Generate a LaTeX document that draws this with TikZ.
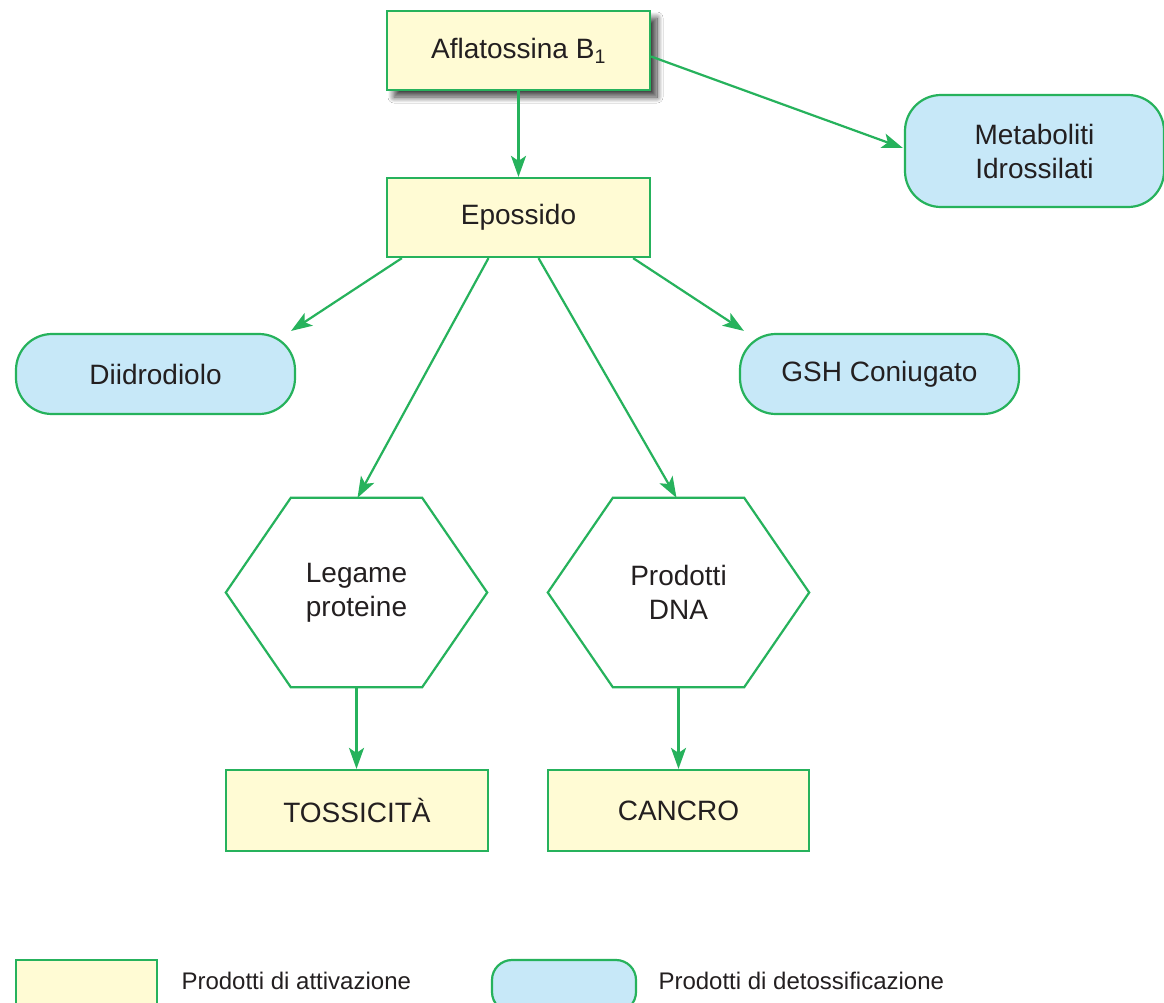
\documentclass[tikz,border=0pt]{standalone}
\usepackage{fontspec}
\setmainfont{Liberation Sans}
\usetikzlibrary{arrows.meta,shadows.blur,calc}
\definecolor{gline}{RGB}{38,178,92}
\definecolor{yfill}{RGB}{255,251,212}
\definecolor{bfill}{RGB}{199,232,248}
\definecolor{tcol}{RGB}{35,31,32}
\begin{document}
\begin{tikzpicture}[x=1pt,y=-1pt,
  every node/.style={text=tcol,font=\fontsize{28}{34}\selectfont,align=center},
  actbox/.style={draw=gline,line width=2.2pt,fill=yfill,minimum width=263pt,minimum height=79pt,inner sep=0pt},
  detbox/.style={draw=gline,line width=2.2pt,fill=bfill,rounded corners=36pt,minimum width=279pt,minimum height=80pt,inner sep=0pt},
  hexnode/.style={minimum width=261pt,minimum height=189pt,inner sep=0pt},
  hexline/.style={draw=gline,line width=2.2pt,line join=miter},
  arr/.style={draw=gline,line width=2.2pt,-{Stealth[length=21pt,width=15pt,inset=5pt]}},
  legtext/.style={anchor=west,font=\fontsize{24}{28}\selectfont}
]
\useasboundingbox (0,0) rectangle (1164,1002);
\clip (0,0) rectangle (1164,1002);
\fill[white] (0,0) rectangle (1164,1002);

% nodes
\node[actbox,blur shadow={shadow xshift=7pt,shadow yshift=-7pt,shadow blur radius=6pt,shadow blur steps=16,shadow opacity=75}] (afla) at (518.5,50.5) {Aflatossina B\textsubscript{1}};
\node[actbox] (epo) at (518.5,217.5) {Epossido};
\node[detbox,minimum width=259pt,minimum height=112pt] (meta) at (1034.5,151) {Metaboliti\\Idrossilati};
\node[detbox] (diid) at (155.5,374) {Diidrodiolo};
\node[detbox] (gsh) at (879.5,374) {GSH Coniugato};
\node[hexnode] (leg) at (356.5,592.5) {Legame\\proteine};
\node[hexnode] (dna) at (678.5,592.5) {Prodotti\\DNA};
\node[actbox,minimum width=262pt,minimum height=81pt] (toss) at (357,810.5) {TOSSICITÀ};
\node[actbox,minimum width=261pt,minimum height=81pt] (canc) at (678.5,810.5) {CANCRO};

% hexagon outlines
\foreach \n in {leg,dna}{
  \draw[hexline] (\n.west) -- ($(\n.north west)+(65,0)$) -- ($(\n.north east)+(-65,0)$)
    -- (\n.east) -- ($(\n.south east)+(-65,0)$) -- ($(\n.south west)+(65,0)$) -- cycle;
}

% connectors
\draw[arr] (afla.south) -- (epo.north);
\draw[arr] ($(afla.east)+(0,6)$) -- ($(meta.west)+(-1,-3)$);
\draw[arr] ($(epo.south west)+(16,0)$) -- ($(diid.north east)+(-5,-2)$);
\draw[arr] ($(epo.south east)+(-18,0)$) -- ($(gsh.north west)+(5,-2)$);
\draw[arr] ($(epo.south)+(-30,0)$) -- ($(leg.north)+(1,0)$);
\draw[arr] ($(epo.south)+(20,0)$) -- ($(dna.north)+(-2,0)$);
\draw[arr] (leg.south) -- (toss.north -| leg.south);
\draw[arr] (dna.south) -- (canc.north -| dna.south);

% legend
\node[actbox,minimum width=141pt,minimum height=52pt] (legA) at (86.5,986) {};
\node[legtext] (legAt) at (178,981) {Prodotti di attivazione};
\node[detbox,rounded corners=20pt,minimum width=144pt,minimum height=52pt] (legB) at (564,986) {};
\node[legtext] (legBt) at (655,981) {Prodotti di detossificazione};
\end{tikzpicture}
\end{document}
